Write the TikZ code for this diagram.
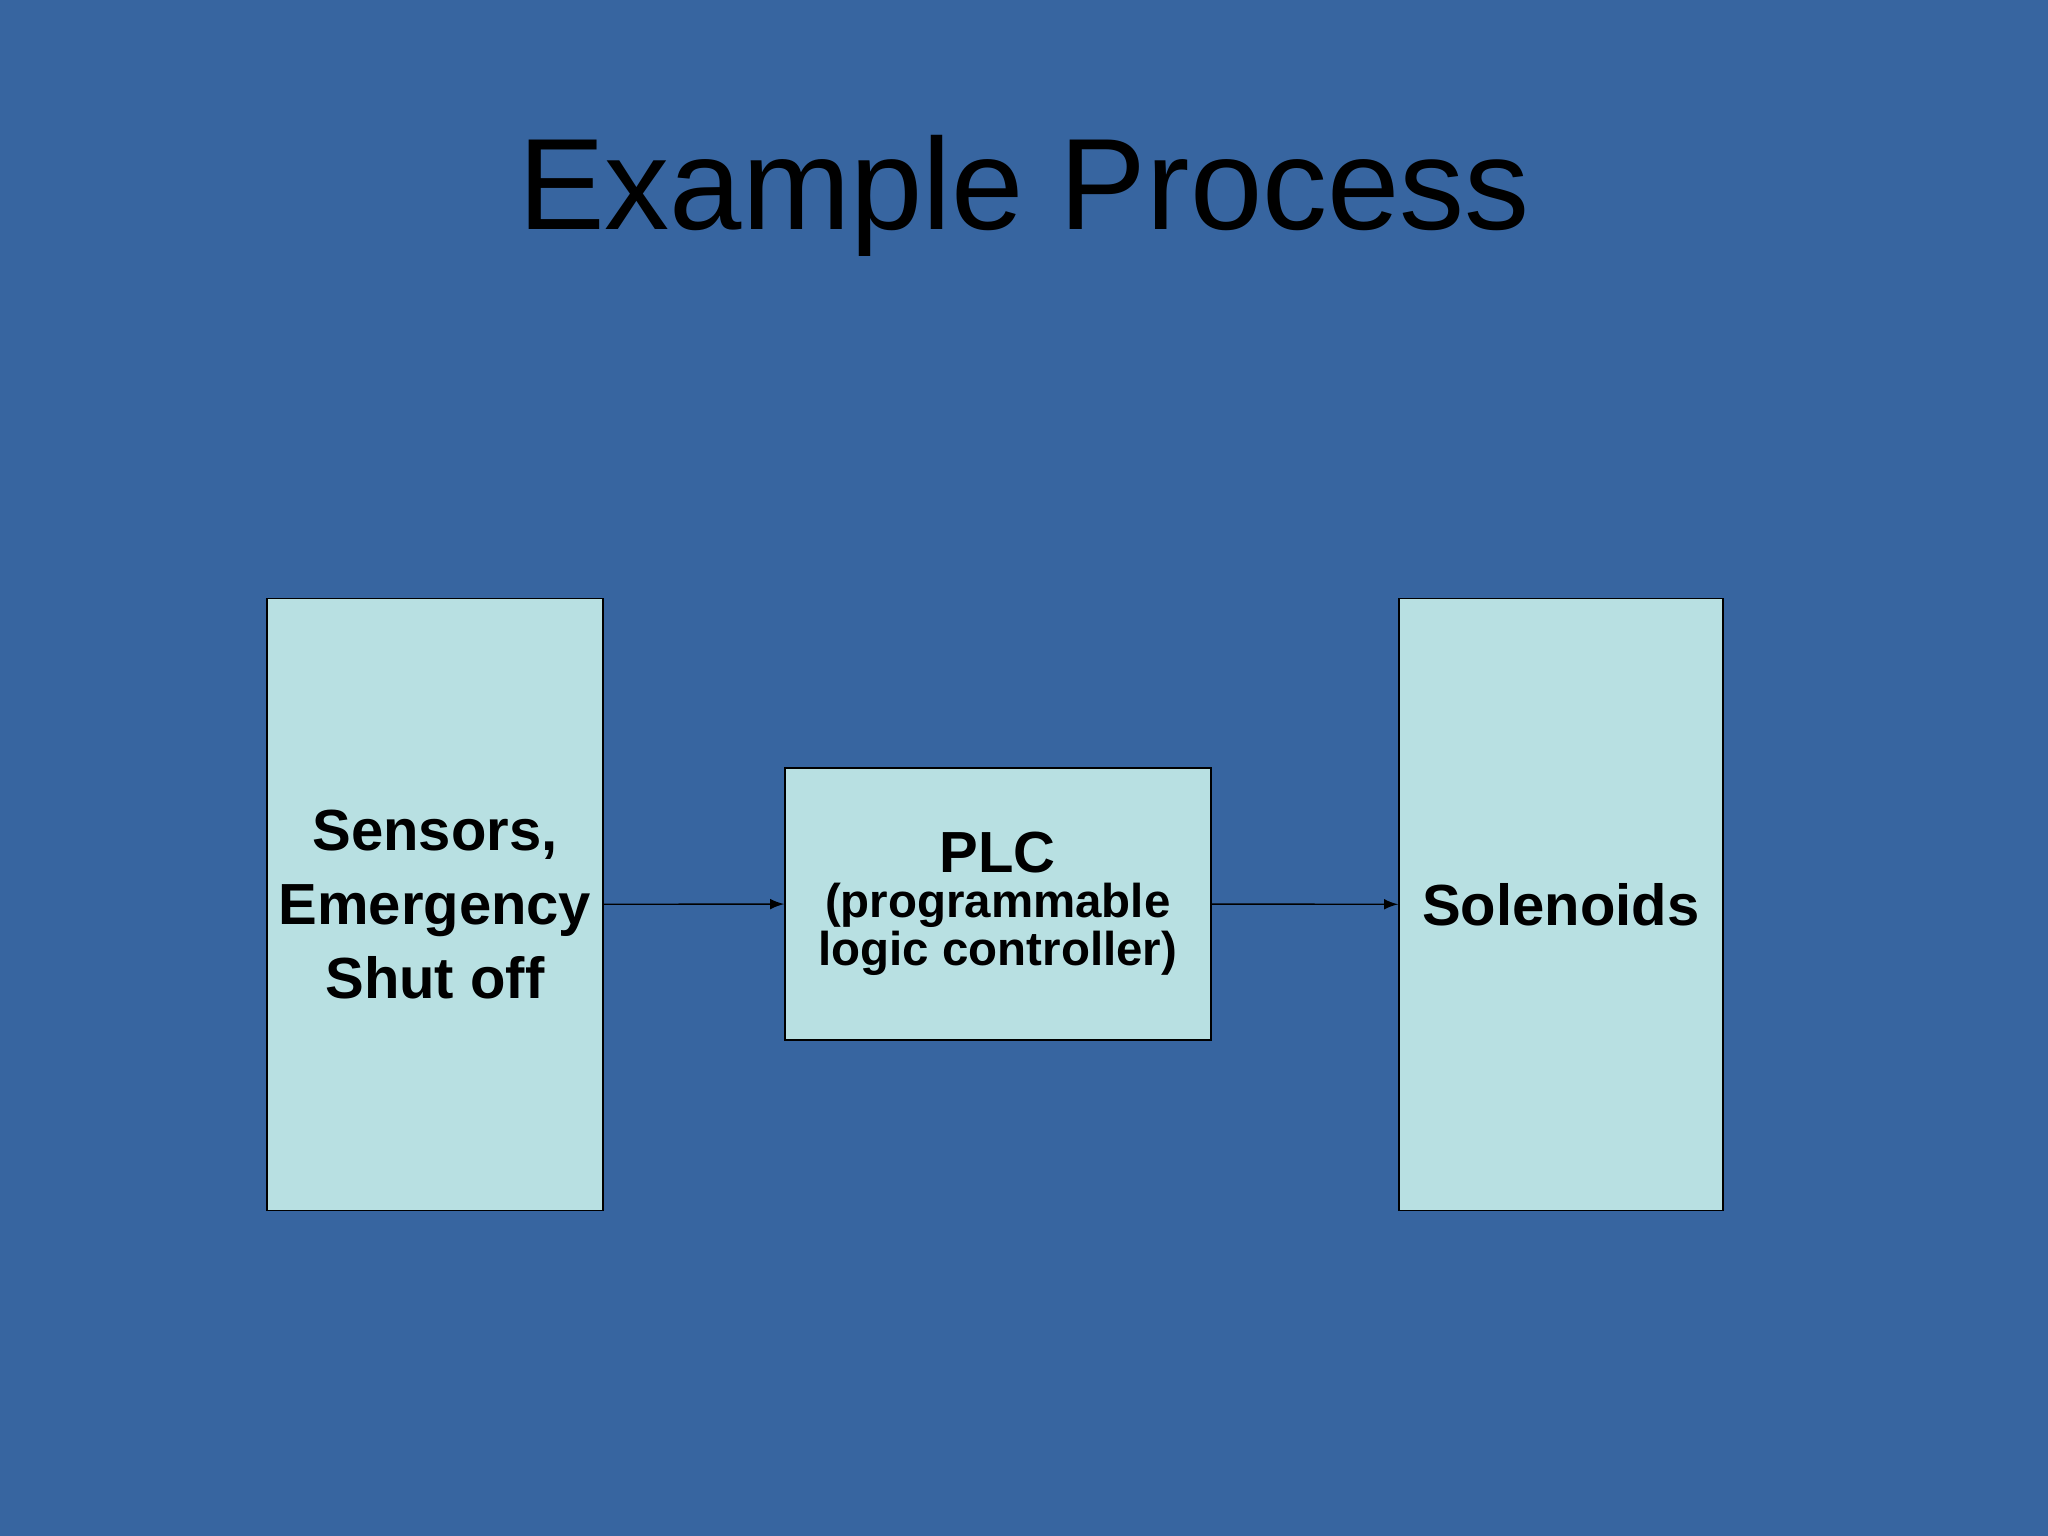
\documentclass[tikz,border=0pt]{standalone}
\usepackage{fontspec}
\setmainfont{Liberation Sans}
\usepackage{tikz}
\usetikzlibrary{positioning,arrows}
\definecolor{slidebg}{HTML}{3765A0}
\definecolor{boxfill}{HTML}{B8E0E2}

\begin{document}
\begin{tikzpicture}[x=0.01306cm,y=-0.01306cm,
        % define styles
        tall/.style={
             draw,
             fill=boxfill,
             minimum width=3.24cm,
             minimum height=6.125cm,
             align=center,
             font=\fontsize{16.5}{21}\selectfont\bfseries
        },
        wide/.style={
             draw,
             fill=boxfill,
             minimum width=4.26cm,
             minimum height=2.72cm,
             align=center
        }
    ]
        \fill[slidebg] (0,0) rectangle (1568,1176);
        \useasboundingbox (0,0) rectangle (1568,1176);

        % title
        \node (title) at (784,150) {\fontsize{37}{44}\selectfont Example Process};

        % the three blocks
        \node[tall] at (333,692.5) (sensors) {Sensors,\\Emergency\\Shut off};
        \node[wide] at (764,692) (plc) {{\fontsize{16.5}{21}\selectfont\bfseries PLC}\\[1pt]
            {\fontsize{13.5}{16}\selectfont\bfseries (programmable}\\
            {\fontsize{13.5}{16}\selectfont\bfseries logic controller)}};
        \node[tall] at (1195,692.5) (solenoids) {Solenoids};

        \draw[-latex] (sensors) -- (plc);
        \draw[-latex] (plc) -- (solenoids);
    \end{tikzpicture}
\end{document}
